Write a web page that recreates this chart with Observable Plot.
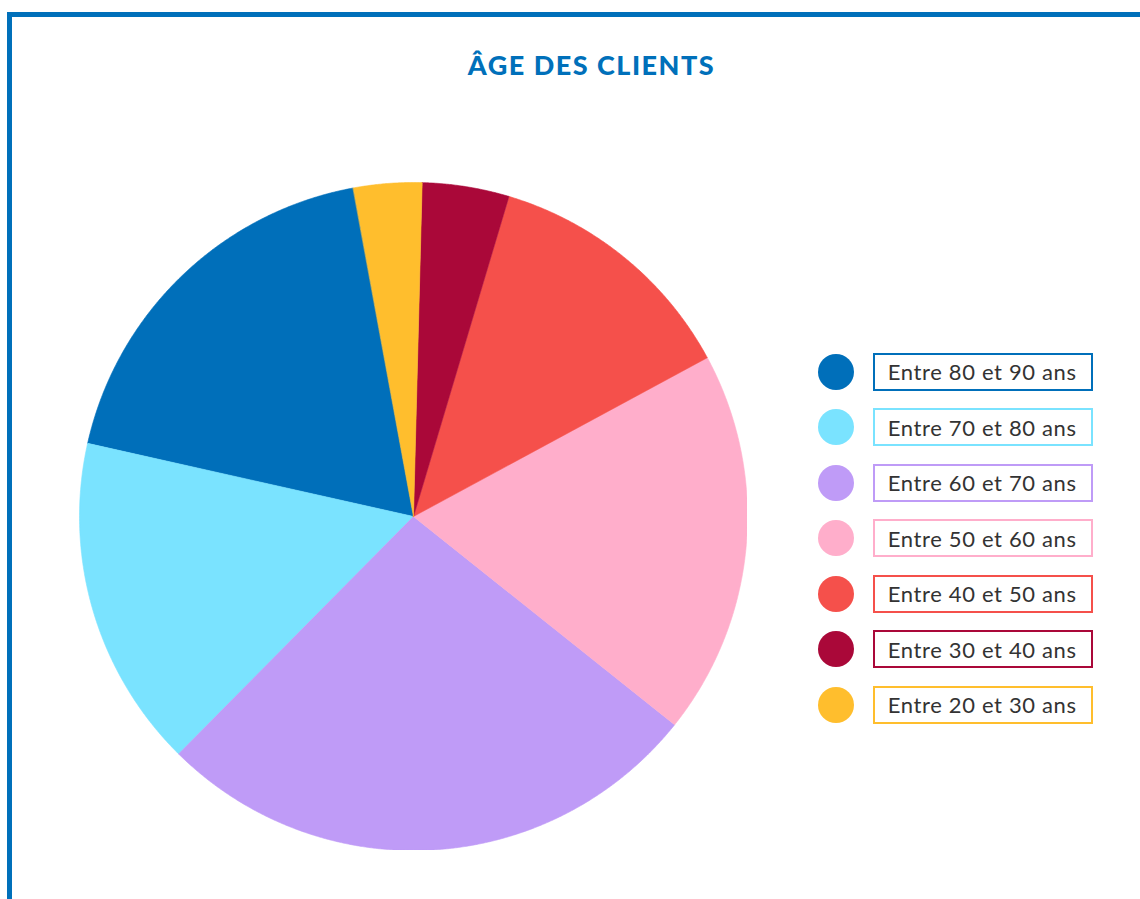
<!DOCTYPE html>
<html><head><meta charset="utf-8">
<script src="https://cdn.jsdelivr.net/npm/d3@7"></script>
<script src="https://cdn.jsdelivr.net/npm/@observablehq/plot@0.6"></script>
<style>
html,body{margin:0;padding:0;background:#fff}
body{width:1140px;height:899px;overflow:hidden;position:relative;font-family:Lato,"Open Sans",sans-serif}
#frame{position:absolute;left:7px;top:12px;width:1300px;height:1000px;border-top:5px solid #0070ba;border-left:5px solid #0070ba;box-sizing:border-box}
#title{position:absolute;left:0;width:1183px;top:51px;text-align:center;font-family:Lato,sans-serif;font-size:27px;line-height:27px;font-weight:900;letter-spacing:1.5px;color:#0070ba}
#pie{position:absolute;left:79px;top:181.5px}
#legend{position:absolute;left:0;top:0}
.row{position:absolute;left:817.7px;height:38px;display:flex;align-items:center}
.dot{width:36px;height:36px;border-radius:50%;margin-right:19px}
.box{box-sizing:border-box;width:220px;height:38px;border:2px solid;background:#fff;display:flex;align-items:center;padding-left:13px;font-size:22px;letter-spacing:0.65px;color:#333}
</style>
</head><body>
<div id="frame"></div>
<div id="title">ÂGE DES CLIENTS</div>
<div id="pie"></div>
<div id="legend"></div>
<script>
const categories = ["Entre 80 et 90 ans", "Entre 70 et 80 ans", "Entre 60 et 70 ans", "Entre 50 et 60 ans", "Entre 40 et 50 ans", "Entre 30 et 40 ans", "Entre 20 et 30 ans"];
const shares = [18.6, 16.1, 26.7, 18.6, 12.5, 4.2, 3.3];
const colors = ["#006fba", "#7ae3ff", "#bf9bf7", "#ffaecb", "#f5504b", "#aa0839", "#ffbe2d"];

const startDeg = 349.61;
const data = categories.map((c, i) => ({cat: c, share: shares[i]}));
const arcs = d3.pie().value(d => d.share).sort(null)
  .startAngle(startDeg * Math.PI / 180).endAngle(startDeg * Math.PI / 180 - 2 * Math.PI)(data);

const pts = [];
for (const a of arcs) {
  const cat = a.data.cat;
  pts.push({cat, x: 0, y: 0});
  const n = Math.max(2, Math.ceil(Math.abs(a.endAngle - a.startAngle) / (0.25 * Math.PI / 180)));
  for (let k = 0; k <= n; k++) {
    const t = a.startAngle + (a.endAngle - a.startAngle) * k / n;
    pts.push({cat, x: Math.sin(t), y: Math.cos(t)});
  }
}

const S = 668;
const chart = Plot.plot({
  width: S, height: S,
  margin: 0,
  x: {domain: [-1, 1], axis: null},
  y: {domain: [-1, 1], axis: null},
  color: {domain: categories, range: colors},
  marks: [
    Plot.line(pts, {x: "x", y: "y", z: "cat", fill: "cat", stroke: "cat", strokeWidth: 0.6, curve: "linear-closed"})
  ]
});
document.getElementById("pie").appendChild(chart);

const legend = document.getElementById("legend");
categories.forEach((c, i) => {
  const row = document.createElement("div");
  row.className = "row";
  row.style.top = (371.7 + 55.5 * i - 19) + "px";
  const dot = document.createElement("div");
  dot.className = "dot";
  dot.style.background = colors[i];
  const box = document.createElement("div");
  box.className = "box";
  box.style.borderColor = colors[i];
  box.textContent = c;
  row.appendChild(dot);
  row.appendChild(box);
  legend.appendChild(row);
});
</script>
</body></html>
